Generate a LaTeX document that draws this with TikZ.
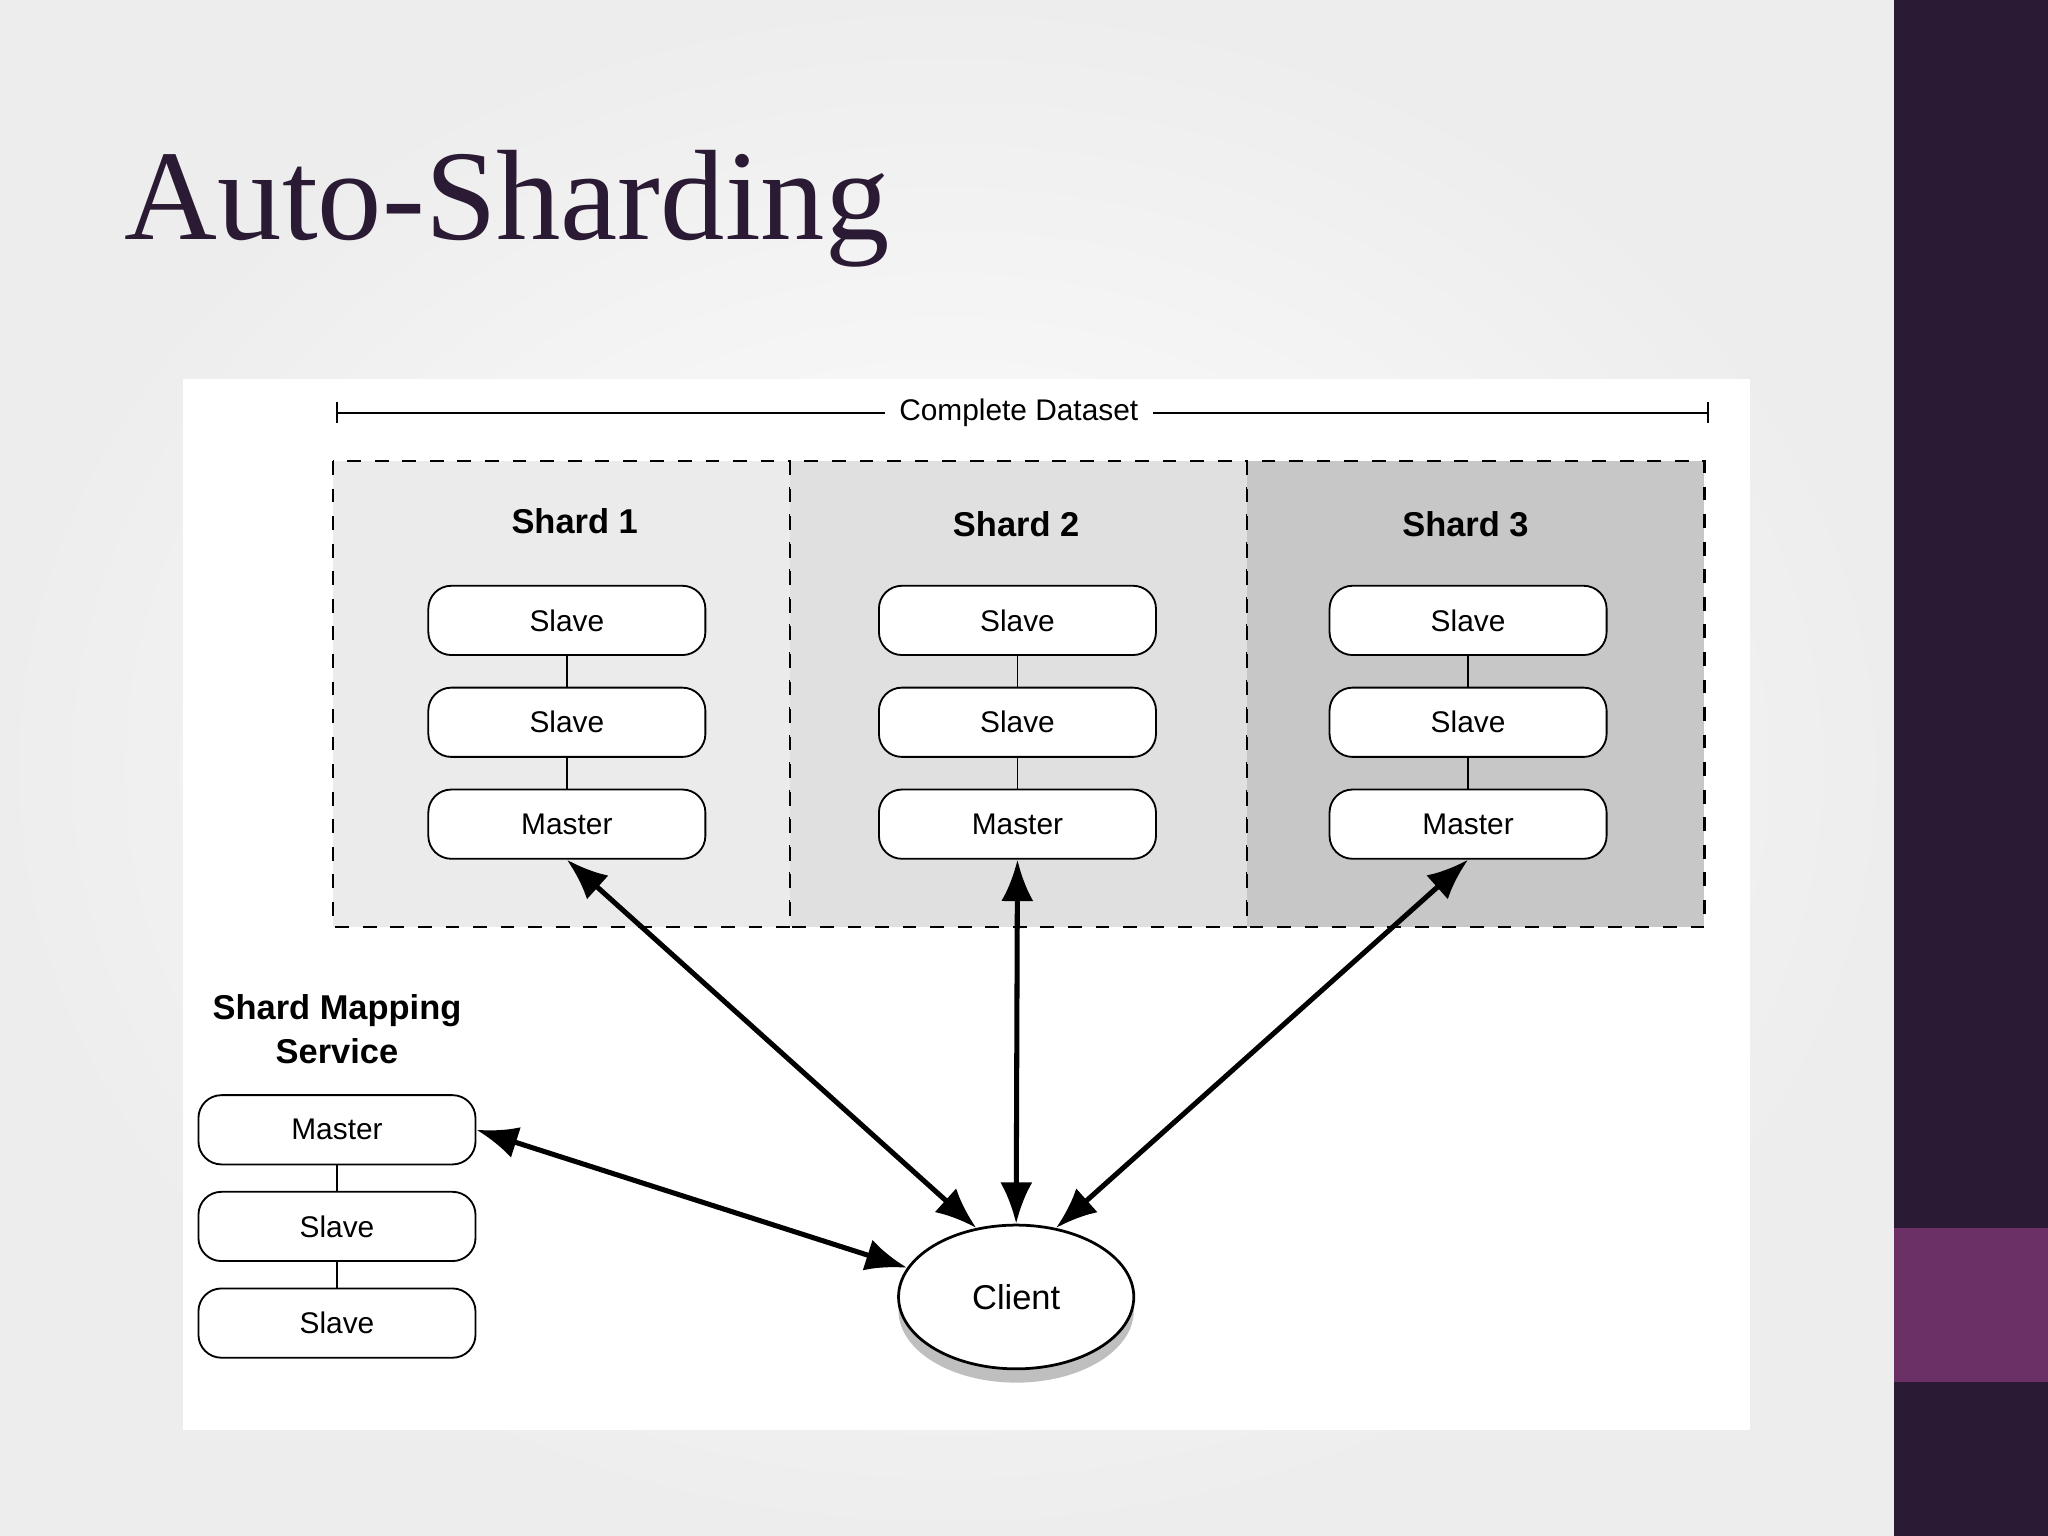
\documentclass[tikz,border=0pt]{standalone}
\usepackage{fontspec}
\setmainfont{Liberation Sans}
\newfontfamily\titlefont{Liberation Serif}
\usetikzlibrary{arrows.meta,shadows,shapes.geometric}
\definecolor{deep}{HTML}{2B1A33}
\definecolor{accent}{HTML}{6B3066}
\begin{document}
\begin{tikzpicture}[x=0.01cm,y=-0.01cm,
  rbox/.style={draw,rounded corners=5pt,fill=white,minimum width=2.12cm,minimum height=0.53cm,inner sep=0pt,font=\fontsize{6.5}{8}\selectfont},
  shardbox/.style={draw,dashed,line width=0.5pt},
  lbl/.style={font=\bfseries\fontsize{7.5}{9.5}\selectfont},
  link/.style={line width=0.4pt},
  dbl/.style={{Latex[length=9pt,width=7pt]}-{Latex[length=9pt,width=7pt]},line width=1.1pt}]
\useasboundingbox (0,0) rectangle (1568,1176);
\shade[inner color=white,outer color=black!7] (0,0) rectangle (1450,1176);
\fill[white] (140,290) rectangle (1340,1095);
\fill[deep] (1450,0) rectangle (1568,1176);
\fill[accent] (1450,940) rectangle (1568,1058);
\node[anchor=base west,inner sep=0,text=deep,font=\titlefont\fontsize{28}{30}\selectfont] (title) at (95,183) {Auto-Sharding};
% dimension line
\node[font=\fontsize{6.5}{8}\selectfont,fill=white,inner sep=3pt] (cd) at (780,316) {Complete Dataset};
\coordinate (dl) at (258,316); \coordinate (dr) at (1308,316);
\draw (dl) -- (cd.west) (cd.east) -- (dr);
\draw (258,308) -- (258,324) (1308,308) -- (1308,324);
% shards
\filldraw[shardbox,fill=black!8] (255,353) rectangle (605,710);
\filldraw[shardbox,fill=black!12] (605,353) rectangle (955,710);
\filldraw[shardbox,fill=black!22] (955,353) rectangle (1305,710);
\node[lbl] (s1) at (440,399) {Shard 1};
\node[lbl] (s2) at (778,401) {Shard 2};
\node[lbl] (s3) at (1122,401) {Shard 3};
\foreach \n/\x in {a/434,b/779,c/1124}{
  \node[rbox] (\n1) at (\x,475) {Slave};
  \node[rbox] (\n2) at (\x,553) {Slave};
  \node[rbox] (\n3) at (\x,631) {Master};
  \draw[link] (\n1) -- (\n2) (\n2) -- (\n3);
}
% mapping service
\node[lbl,align=center] (ms) at (258,788) {Shard Mapping\\Service};
\node[rbox] (m1) at (258,865) {Master};
\node[rbox] (m2) at (258,939) {Slave};
\node[rbox] (m3) at (258,1013) {Slave};
\draw[link] (m1) -- (m2) (m2) -- (m3);
% client
\node[draw,ellipse,fill=white,minimum width=1.8cm,minimum height=1.1cm,line width=0.6pt,drop shadow={shadow xshift=0pt,shadow yshift=-3pt,opacity=0.5},font=\fontsize{7.5}{9}\selectfont] (cl) at (778,993) {Client};
\draw[dbl] (a3.south) -- (cl.120);
\draw[dbl] (b3.south) -- (cl.north);
\draw[dbl] (c3.south) -- (cl.60);
\draw[dbl] (m1.east) -- (cl.165);
\end{tikzpicture}
\end{document}
